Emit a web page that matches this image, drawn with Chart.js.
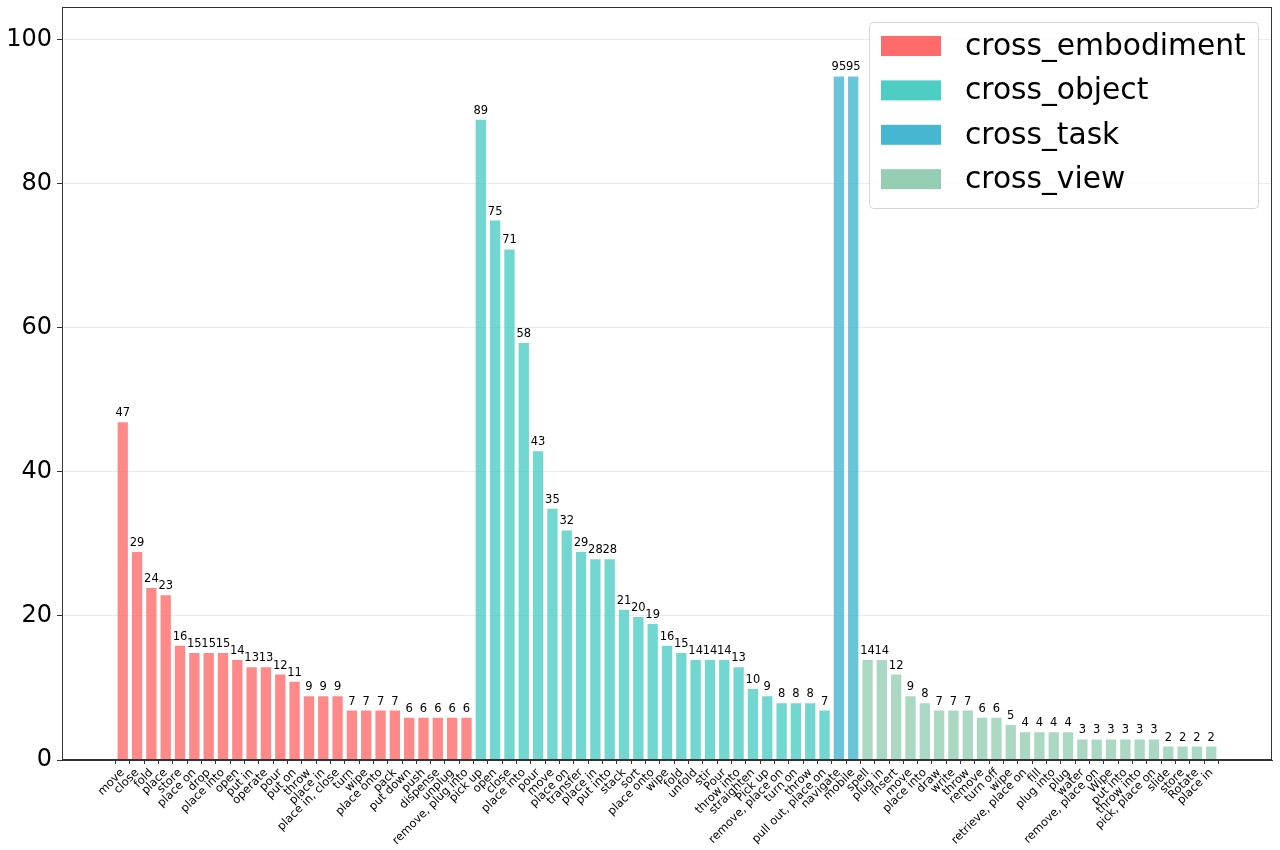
<!DOCTYPE html>
<html lang="en">
<head>
<meta charset="UTF-8">
<title>Task counts by split</title>
<script src="https://cdn.jsdelivr.net/npm/chart.js"></script>
<style>
  body { margin: 0; background: #fff; font-family: "DejaVu Sans", sans-serif; }
  .wrap { width: 1280px; height: 850px; }
</style>
</head>
<body>
<div class="wrap"><canvas id="myChart" width="1280" height="850"></canvas></div>
<script>
const groupNames = ['cross_embodiment', 'cross_object', 'cross_task', 'cross_view'];
const groupColors = ['#FF6B6B', '#4ECDC4', '#45B7D1', '#96CEB4'];

const embodimentLabels = ['move', 'close', 'fold', 'place', 'store', 'place on', 'drop', 'place into', 'open', 'put in',
  'operate', 'pour', 'put on', 'throw', 'place in', 'place in, close', 'turn', 'wipe', 'place onto', 'pack',
  'put down', 'push', 'dispense', 'unplug', 'remove, plug into'];
const embodimentValues = [47, 29, 24, 23, 16, 15, 15, 15, 14, 13, 13, 12, 11, 9, 9, 9, 7, 7, 7, 7, 6, 6, 6, 6, 6];

const objectLabels = ['pick up', 'open', 'close', 'place into', 'pour', 'move', 'place on', 'transfer', 'place in', 'put into',
  'stack', 'sort', 'place onto', 'wipe', 'fold', 'unfold', 'stir', 'Pour', 'throw into', 'straighten',
  'Pick up', 'remove, place on', 'turn on', 'throw', 'pull out, place on'];
const objectValues = [89, 75, 71, 58, 43, 35, 32, 29, 28, 28, 21, 20, 19, 16, 15, 14, 14, 14, 13, 10, 9, 8, 8, 8, 7];

const taskLabels = ['navigate', 'mobile'];
const taskValues = [95, 95];

const viewLabels = ['spell', 'plug in', 'insert', 'move', 'place into', 'draw', 'write', 'throw', 'remove', 'turn off',
  'wipe', 'retrieve, place on', 'fill', 'plug into', 'plug', 'water', 'remove, place on', 'Wipe', 'put into', 'throw into',
  'pick, place on', 'slide', 'store', 'Rotate', 'place in'];
const viewValues = [14, 14, 12, 9, 8, 7, 7, 7, 6, 6, 5, 4, 4, 4, 4, 3, 3, 3, 3, 3, 3, 2, 2, 2, 2];

const yTicks = [0, 20, 40, 60, 80, 100];

// all x labels in drawing order
const groupLabels = [embodimentLabels, objectLabels, taskLabels, viewLabels];
const groupValues = [embodimentValues, objectValues, taskValues, viewValues];
const allLabels = [].concat(...groupLabels);

function alpha(hex, a) {
  const n = parseInt(hex.slice(1), 16);
  return `rgba(${n >> 16}, ${(n >> 8) & 255}, ${n & 255}, ${a})`;
}

let offset = 0;
const datasets = groupNames.map((name, g) => {
  const start = offset;
  offset += groupValues[g].length;
  return {
    label: name,
    data: groupValues[g].map((v, i) => ({ x: start + i, y: v })),
    backgroundColor: alpha(groupColors[g], 0.8),
    borderColor: 'rgba(255,255,255,0.35)',
    borderWidth: 1,
    barPercentage: 0.86,
    categoryPercentage: 1.0,
    grouped: false
  };
});

const framePlugin = {
  id: 'frame',
  afterDatasetsDraw(chart) {
    const ctx = chart.ctx;
    // value labels above bars
    ctx.save();
    ctx.fillStyle = '#000';
    ctx.font = '11.5px "DejaVu Sans"';
    ctx.textAlign = 'center';
    ctx.textBaseline = 'alphabetic';
    chart.data.datasets.forEach((ds, d) => {
      chart.getDatasetMeta(d).data.forEach((bar, i) => {
        ctx.fillText(String(ds.data[i].y), bar.x, bar.y - 5);
      });
    });
    ctx.restore();
  },
  afterDraw(chart) {
    const ctx = chart.ctx;
    const a = chart.chartArea;
    ctx.save();
    ctx.strokeStyle = '#333';
    ctx.lineWidth = 1;
    ctx.strokeRect(a.left + 0.5, a.top + 0.5, a.right - a.left - 1, a.bottom - a.top - 1);

    // legend box, upper right
    const bx = 869, by = 22, bw = 389, bh = 186;
    ctx.fillStyle = 'rgba(255,255,255,0.85)';
    ctx.strokeStyle = '#d6d6d6';
    ctx.beginPath();
    ctx.roundRect(bx + 0.5, by + 0.5, bw, bh, 4);
    ctx.fill();
    ctx.stroke();
    ctx.font = '29.7px "DejaVu Sans"';
    ctx.textBaseline = 'middle';
    ctx.textAlign = 'left';
    groupNames.forEach((name, g) => {
      const cy = 46 + g * 44.4;
      ctx.fillStyle = groupColors[g];
      ctx.fillRect(881, cy - 10, 60, 20);
      ctx.fillStyle = '#000';
      ctx.fillText(name, 965, cy + 1);
    });
    ctx.restore();
  }
};

new Chart(document.getElementById('myChart'), {
  type: 'bar',
  data: { datasets },
  options: {
    responsive: false,
    animation: false,
    layout: { padding: { top: 7, right: 8, left: 0, bottom: 0 } },
    plugins: { legend: { display: false }, tooltip: { enabled: false } },
    scales: {
      x: {
        type: 'linear',
        min: -4.24,
        max: 80.24,
        offset: false,
        afterBuildTicks(axis) { axis.ticks = allLabels.map((_, i) => ({ value: i })); },
        afterFit(scale) { scale.height = 90; scale.paddingLeft = 0; scale.paddingRight = 0; },
        ticks: {
          autoSkip: false,
          minRotation: 45,
          maxRotation: 45,
          color: '#000',
          font: { family: 'DejaVu Sans', size: 11.5 },
          padding: 2,
          callback: (v) => allLabels[v]
        },
        grid: { color: 'rgba(0,0,0,0)', tickColor: '#333', tickLength: 4, drawOnChartArea: false },
        border: { display: true, color: '#333' }
      },
      y: {
        min: 0,
        max: 104.5,
        afterBuildTicks(axis) { axis.ticks = yTicks.map(v => ({ value: v })); },
        afterFit(scale) { scale.width = 62; scale.paddingTop = 0; scale.paddingBottom = 0; },
        ticks: {
          color: '#000',
          font: { family: 'DejaVu Sans', size: 24 },
          padding: 5
        },
        grid: { color: 'rgba(0,0,0,0.08)', tickColor: '#333', tickLength: 5 },
        border: { display: true, color: '#333' }
      }
    }
  },
  plugins: [framePlugin]
});
</script>
</body>
</html>
